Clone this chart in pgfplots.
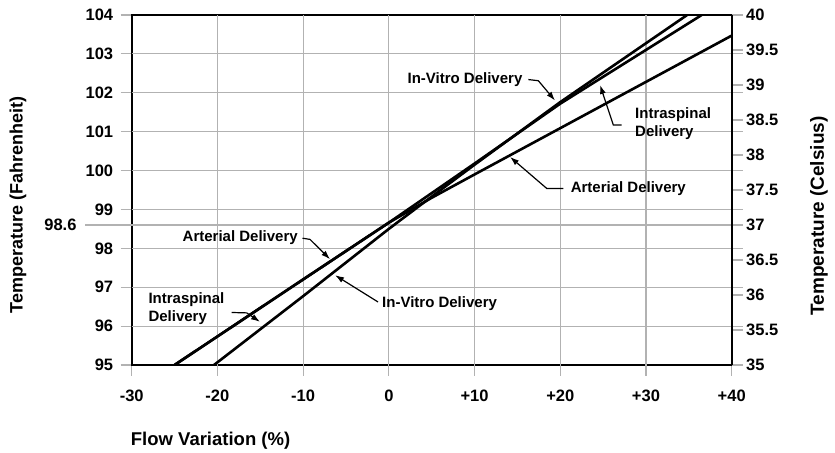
\documentclass[border=0pt]{standalone}
\usepackage{fontspec}
\setmainfont{Liberation Sans}
\usepackage{pgfplots}
\pgfplotsset{compat=1.18}
\usetikzlibrary{arrows.meta}
\definecolor{gridgray}{RGB}{178,178,178}
\tikzset{
  annot/.style={font=\fontsize{15}{18}\selectfont\bfseries, inner sep=0pt},
  arr/.style={line width=1.2pt, -{Latex[length=9pt,width=6pt]}},
  gl/.style={draw=gridgray, line width=1.1pt},
}
\begin{document}
\begin{tikzpicture}
\begin{axis}[
  name=main,
  scale only axis, width=600pt, height=350pt,
  xmin=-30, xmax=40, ymin=95, ymax=104,
  xtick={-30,-20,-10,0,10,20,30,40},
  xticklabels={-30,-20,-10,0,+10,+20,+30,+40},
  ytick={95,96,97,98,99,100,101,102,103,104},
  yticklabels={95,96,97,98,99,100,101,102,103,104},
  extra x ticks={-20,-10,0,10,20,30},
  extra x tick labels={},
  extra x tick style={grid=major},
  major grid style={draw=gridgray, line width=1.1pt},
  major tick style={draw=gridgray, line width=1.1pt},
  tick style={draw=gridgray, line width=1.1pt},
  major tick length=11pt,
  tick align=outside,
  xtick pos=left, ytick pos=both, yticklabel pos=left,
  axis line style={black, line width=2.4pt},
  /pgf/number format/assume math mode=true,
  ticklabel style={font=\fontsize{16.5}{16.5}\selectfont\bfseries},
  xticklabel style={yshift=-10pt},
  yticklabel style={xshift=-4pt},
]
% horizontal grid lines
\addplot[gl] coordinates {(-30,96) (40,96)};
\addplot[gl] coordinates {(-30,97) (40,97)};
\addplot[gl] coordinates {(-30,98) (40,98)};
\addplot[gl] coordinates {(-30,98.6) (40,98.6)};
\addplot[gl] coordinates {(-30,99) (40,99)};
\addplot[gl] coordinates {(-30,100) (40,100)};
\addplot[gl] coordinates {(-30,101) (40,101)};
\addplot[gl] coordinates {(-30,102) (40,102)};
\addplot[gl] coordinates {(-30,103) (40,103)};
% data
\addplot[black, line width=2.6pt, line join=round] coordinates {
 (-25,95) (-10,97.2) (0,98.66) (5,99.3) (10,99.9) (20,101.09) (30,102.28) (40,103.47)};
\addplot[black, line width=2.6pt, line join=round] coordinates {
 (-25,95) (-10,97.2) (0,98.66) (5,99.42) (10,100.18) (20,101.72) (36.5,104)};
\addplot[black, line width=2.6pt, line join=round] coordinates {
 (-20.4,95) (-10,96.77) (0,98.5) (5,99.33) (10,100.15) (20,101.76) (34.8,104)};
% annotations
\node[annot, anchor=east] at (axis cs:15.6,102.35) {In-Vitro Delivery};
\draw[arr] (axis cs:16.27,102.34) -- (axis cs:17.44,102.31) -- (axis cs:19.39,101.8);
\node[annot, anchor=west, align=left] at (axis cs:28.72,101.2) {Intraspinal\\Delivery};
\draw[arr] (axis cs:27.17,101.17) -- (axis cs:26.19,101.17) -- (axis cs:24.64,102.2);
\node[annot, anchor=west] at (axis cs:21.2,99.53) {Arterial Delivery};
\draw[arr] (axis cs:20.36,99.54) -- (axis cs:18.42,99.54) -- (axis cs:14.14,100.35);
\node[annot, anchor=east] at (axis cs:-10.6,98.28) {Arterial Delivery};
\draw[arr] (axis cs:-10.07,98.26) -- (axis cs:-9.2,98.23) -- (axis cs:-6.86,97.72);
\node[annot, anchor=west] at (axis cs:-0.8,96.57) {In-Vitro Delivery};
\draw[arr] (axis cs:-1.26,96.62) -- (axis cs:-6.28,97.31);
\node[annot, anchor=west, align=left] at (axis cs:-28.06,96.44) {Intraspinal\\Delivery};
\draw[arr] (axis cs:-18.33,96.35) -- (axis cs:-16.58,96.34) -- (axis cs:-15.03,96.11);
\coordinate (sw) at (rel axis cs:0,0);
\coordinate (se) at (rel axis cs:1,0);
\coordinate (ne) at (rel axis cs:1,1);
\coordinate (p986) at (axis cs:-30,98.6);
\end{axis}
\begin{axis}[
  scale only axis, width=600pt, height=350pt,
  xmin=-30, xmax=40, ymin=35, ymax=40,
  axis x line=none, axis y line*=right,
  ytick={35,35.5,36,36.5,37,37.5,38,38.5,39,39.5,40},
  yticklabels={35,35.5,36,36.5,37,37.5,38,38.5,39,39.5,40},
  yticklabel style={anchor=west},
  major tick style={draw=gridgray, line width=1.1pt},
  major tick length=11pt,
  tick align=outside,
  axis line style={black, line width=2.4pt},
  /pgf/number format/assume math mode=true,
  ticklabel style={font=\fontsize{16.5}{16.5}\selectfont\bfseries},
]
\addplot[draw=none] coordinates {(0,35) (0,40)};
\end{axis}
\draw[gridgray, line width=1.1pt] (p986) -- ++(-47pt,0);
\node[font=\fontsize{16.5}{16.5}\selectfont\bfseries, anchor=east, inner sep=0pt] at ([xshift=-55pt]p986) {98.6};
\node[font=\fontsize{18}{18}\selectfont\bfseries, rotate=90] at ([xshift=-113.7pt,yshift=160pt]sw) {Temperature (Fahrenheit)};
\node[font=\fontsize{19}{19}\selectfont\bfseries, rotate=90] at ([xshift=87.3pt,yshift=149pt]se) {Temperature (Celsius)};
\node[font=\fontsize{18.5}{18.5}\selectfont\bfseries, anchor=west, inner sep=0pt] at ([xshift=-1pt,yshift=-76pt]sw) {Flow Variation (\%)};
\pgfresetboundingbox
\path ([xshift=-131.7pt,yshift=-88pt]sw) rectangle ([xshift=103.3pt,yshift=15pt]ne);
\end{tikzpicture}
\end{document}
